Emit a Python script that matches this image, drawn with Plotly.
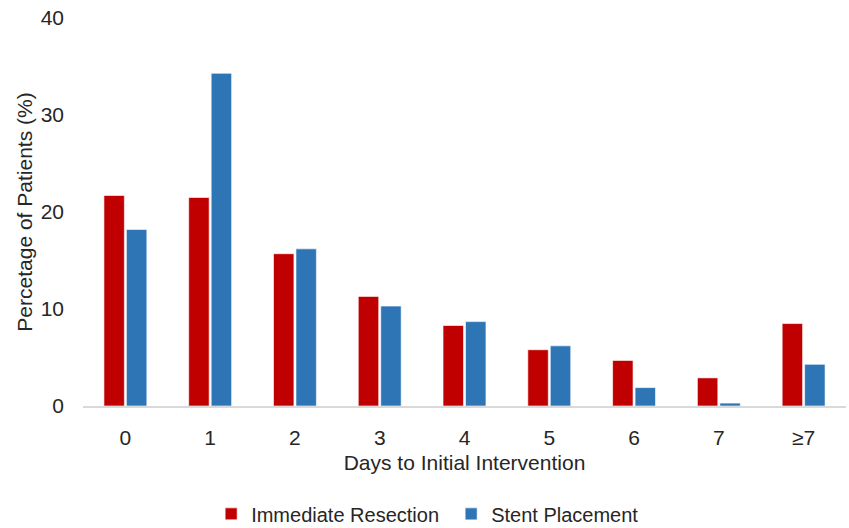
import plotly.graph_objects as go

# Days from presentation to first intervention
days = ["0", "1", "2", "3", "4", "5", "6", "7", "≥7"]
immediate_resection = [21.7, 21.5, 15.7, 11.3, 8.3, 5.8, 4.7, 2.9, 8.5]
stent_placement = [18.2, 34.3, 16.2, 10.3, 8.7, 6.2, 1.9, 0.3, 4.3]

font_family = "Liberation Sans, Arial, sans-serif"

fig = go.Figure()
fig.add_trace(go.Bar(
    x=days, y=immediate_resection, name="Immediate Resection",
    marker=dict(color="#C00000", line=dict(color="rgba(255,255,255,0.6)", width=1)),
))
fig.add_trace(go.Bar(
    x=days, y=stent_placement, name="Stent Placement",
    marker=dict(color="#2E75B6", line=dict(color="rgba(255,255,255,0.6)", width=1)),
))

fig.update_layout(
    width=849, height=528,
    margin=dict(l=83, r=3, t=18, b=122, autoexpand=False),
    paper_bgcolor="white", plot_bgcolor="white",
    font=dict(family=font_family, size=21, color="#262626"),
    barmode="group", bargap=0.47, bargroupgap=0.09,
    showlegend=True,
    legend=dict(
        orientation="h", x=0.4825, xanchor="center", y=-0.278, yanchor="middle",
        font=dict(size=20, color="#262626"), itemwidth=30, traceorder="normal",
        entrywidth=195, entrywidthmode="pixels",
    ),
)
fig.update_xaxes(
    showline=True, linecolor="#D9D9D9", linewidth=1.5,
    showgrid=False, ticks="", tickfont=dict(size=21), ticklabelstandoff=12,
    title=dict(text="Days to Initial Intervention", font=dict(size=21), standoff=7),
)
fig.update_yaxes(
    range=[0, 40], dtick=10, showgrid=False, zeroline=False, showline=False,
    ticks="", tickfont=dict(size=21), ticklabelstandoff=18,
    title=dict(text="Percetage of Patients (%)", font=dict(size=21), standoff=2),
)

fig.write_html("out.html")
